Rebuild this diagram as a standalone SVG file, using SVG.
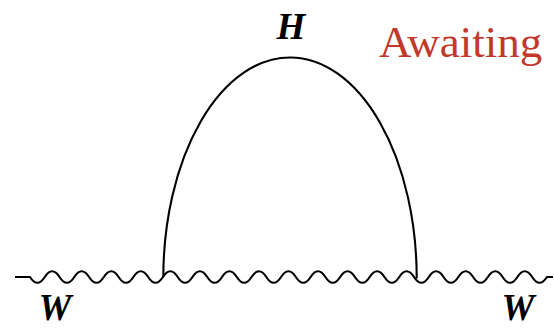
<svg xmlns="http://www.w3.org/2000/svg" width="554" height="328" viewBox="0 0 554 328">
<style>
.line{fill:none;stroke:#000;stroke-width:2.1;stroke-linejoin:round;stroke-linecap:butt}
.lbl{font-family:"Liberation Serif","Times New Roman",serif;font-weight:bold;font-style:italic;font-size:37px;fill:#000;text-anchor:middle}
.note{font-family:"Liberation Serif","Times New Roman",serif;font-size:45px;fill:#c0392b}
</style>
<rect width="554" height="328" fill="#fff"/>
<g id="connectors">
<path id="w-line" class="line" d="M15,277 H30 Q37.385,288.6 44.77,277 T59.54,277 T74.31,277 T89.08,277 T103.85,277 T118.62,277 T133.39,277 T148.16,277 T162.93,277 T177.7,277 T192.47,277 T207.24,277 T222.01,277 T236.78,277 T251.55,277 T266.32,277 T281.09,277 T295.86,277 T310.63,277 T325.4,277 T340.17,277 T354.94,277 T369.71,277 T384.48,277 T399.25,277 T414.02,277 T428.79,277 T443.56,277 T458.33,277 T473.1,277 T487.87,277 T502.64,277 T517.41,277 T532.18,277 T546.95,277 H553"/>
<path id="h-line" class="line" d="M163.3,277 A126.7,220.3 0 0 1 416.7,278.5"/>
</g>
<g id="label-H"><text class="lbl" x="291" y="39">H</text></g>
<g id="label-W-left"><text class="lbl" x="55" y="320">W</text></g>
<g id="label-W-right"><text class="lbl" x="518" y="320">W</text></g>
<g id="label-awaiting"><text class="note" x="379" y="57">Awaiting</text></g>
</svg>
